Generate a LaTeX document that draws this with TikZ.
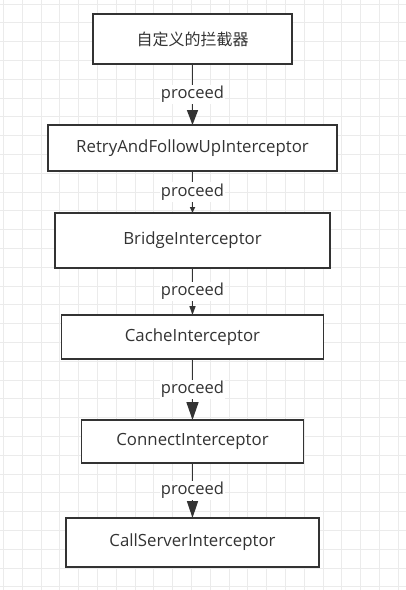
\documentclass[tikz,border=0pt]{standalone}
\usepackage{fontspec}
\setmainfont{Open Sans}
\newfontfamily\cjk{Noto Sans CJK SC}
\usetikzlibrary{arrows.meta, positioning}
\definecolor{inkgray}{HTML}{333333}
\definecolor{gridgray}{HTML}{EBEBEB}

\begin{document}
\begin{tikzpicture}[
  x=0.75pt, y=-0.75pt,
  box/.style={draw=inkgray, line width=1.15pt, fill=white, inner sep=0pt,
              outer sep=0pt, text=inkgray, font=\fontsize{12.6}{14}\selectfont},
  flow/.style 2 args={draw=inkgray, line width=1.15pt,
              -{Triangle[length=#1, width=#2]}},
  lbl/.style={fill=white, inner sep=1pt, midway, text=inkgray,
              font=\fontsize{12.4}{14}\selectfont},
  gridline/.style={draw=gridgray, line width=0.75pt}
]
\useasboundingbox[fill=white] (0,0) rectangle (406,590);

% background grid
\foreach \i in {0,...,21}
  \draw[gridline] (3.5+18.8*\i,0) -- (3.5+18.8*\i,590);
\foreach \j in {0,...,31}
  \draw[gridline] (0,4+18.8*\j) -- (406,4+18.8*\j);

% interceptor chain
\node[box, minimum width=149.25pt, minimum height=37.5pt] (custom) at (192.5,39) {\cjk\fontsize{12}{14}\selectfont 自定义的拦截器};
\node[box, minimum width=216.75pt, minimum height=34.5pt, below=45.75pt of custom] (retry) {RetryAndFollowUpInterceptor};
\node[box, minimum width=206.25pt, minimum height=41.25pt, below=31.5pt of retry] (bridge) {BridgeInterceptor};
\node[box, minimum width=196.5pt, minimum height=33pt, below=35.25pt of bridge] (cache) {CacheInterceptor};
\node[box, minimum width=166.5pt, minimum height=32.25pt, below=45.75pt of cache] (connect) {ConnectInterceptor};
\node[box, minimum width=189.75pt, minimum height=36.75pt, below=41.25pt of connect] (callserver) {CallServerInterceptor};

\draw[flow={11.25pt}{8.25pt}] (custom) -- node[lbl]{proceed} (retry);
\draw[flow={4.5pt}{3.75pt}] (retry) -- node[lbl]{proceed} (bridge);
\draw[flow={6.75pt}{4.5pt}] (bridge) -- node[lbl]{proceed} (cache);
\draw[flow={13.5pt}{9pt}] (cache) -- node[lbl]{proceed} (connect);
\draw[flow={12.75pt}{8.25pt}] (connect) -- node[lbl]{proceed} (callserver);
\end{tikzpicture}
\end{document}
